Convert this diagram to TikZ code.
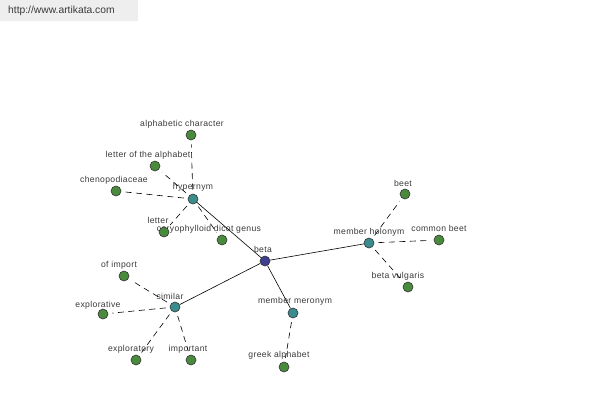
\documentclass[tikz,border=0pt]{standalone}
\usepackage{fontspec}
\setmainfont{Liberation Sans}
\newfontfamily\lblfont[LetterSpace=4]{Liberation Sans}
\definecolor{hubc}{HTML}{3E3E92}
\definecolor{relc}{HTML}{3B8C8C}
\definecolor{leafc}{HTML}{4A8A3C}
\definecolor{txtc}{HTML}{3A3A3A}
\definecolor{bannerc}{HTML}{EEEEEE}
\tikzset{
  dot/.style={circle,draw=black!80,line width=0.6pt,minimum size=10pt,inner sep=0pt},
  hub/.style={dot,fill=hubc},
  rel/.style={dot,fill=relc},
  leaf/.style={dot,fill=leafc},
  lbl/.style={text=txtc,font=\lblfont\fontsize{8.6}{9}\selectfont,inner sep=0pt},
  solidedge/.style={draw=black,line width=0.6pt},
  dashedge/.style={draw=black,line width=0.6pt,dash pattern=on 6pt off 4.5pt,shorten <=4pt,shorten >=4pt}
}
\begin{document}
\begin{tikzpicture}[x=1pt,y=-1pt]
\useasboundingbox (0,0) rectangle (600,400);
\fill[white] (0,0) rectangle (600,400);
\fill[bannerc] (0,0) rectangle (138,21);
\node[text=txtc,font=\fontsize{10.3}{11}\selectfont,inner sep=0pt,anchor=west] (url) at (8,11) {http://www.artikata.com};

% labels
\node[lbl] (lbeta) at (263,249) {beta};
\node[lbl] (lhyp) at (193,187) {hypernym};
\node[lbl] (lhol) at (369,232) {member holonym};
\node[lbl] (lsim) at (170,296) {similar};
\node[lbl] (lmer) at (295,301) {member meronym};
\node[lbl] (lalpha) at (182,124) {alphabetic character};
\node[lbl] (lletalpha) at (148,155) {letter of the alphabet};
\node[lbl] (lchen) at (114,180) {chenopodiaceae};
\node[lbl] (lletter) at (158,220) {letter};
\node[lbl] (lcaryo) at (209,229) {caryophylloid dicot genus};
\node[lbl] (lbeet) at (403,183) {beet};
\node[lbl] (lcommon) at (439,228) {common beet};
\node[lbl] (lvulg) at (398,276) {beta vulgaris};
\node[lbl] (lgreek) at (279,355) {greek alphabet};
\node[lbl] (limport) at (119,265) {of import};
\node[lbl] (lexplv) at (98,305) {explorative};
\node[lbl] (lexply) at (131,349) {exploratory};
\node[lbl] (limpt) at (188,349) {important};

% nodes
\node[hub] (beta) at (265,261) {};
\node[rel] (hyp) at (193,199) {};
\node[rel] (hol) at (369,243) {};
\node[rel] (sim) at (175,307) {};
\node[rel] (mer) at (293,313) {};
\node[leaf] (alpha) at (191,135) {};
\node[leaf] (letalpha) at (155,166) {};
\node[leaf] (chen) at (116,191) {};
\node[leaf] (letter) at (164,232) {};
\node[leaf] (caryo) at (222,240) {};
\node[leaf] (beet) at (405,194) {};
\node[leaf] (common) at (439,240) {};
\node[leaf] (vulg) at (408,287) {};
\node[leaf] (greek) at (284,367) {};
\node[leaf] (import) at (124,276) {};
\node[leaf] (explv) at (103,314) {};
\node[leaf] (exply) at (136,360) {};
\node[leaf] (impt) at (191,360) {};

% edges
\draw[solidedge] (beta) -- (hyp);
\draw[solidedge] (beta) -- (hol);
\draw[solidedge] (beta) -- (sim);
\draw[solidedge] (beta) -- (mer);
\draw[dashedge] (hyp) -- (alpha);
\draw[dashedge] (hyp) -- (letalpha);
\draw[dashedge] (hyp) -- (chen);
\draw[dashedge] (hyp) -- (letter);
\draw[dashedge] (hyp) -- (caryo);
\draw[dashedge] (hol) -- (beet);
\draw[dashedge] (hol) -- (common);
\draw[dashedge] (hol) -- (vulg);
\draw[dashedge] (mer) -- (greek);
\draw[dashedge] (sim) -- (import);
\draw[dashedge] (sim) -- (explv);
\draw[dashedge] (sim) -- (exply);
\draw[dashedge] (sim) -- (impt);
\end{tikzpicture}
\end{document}
